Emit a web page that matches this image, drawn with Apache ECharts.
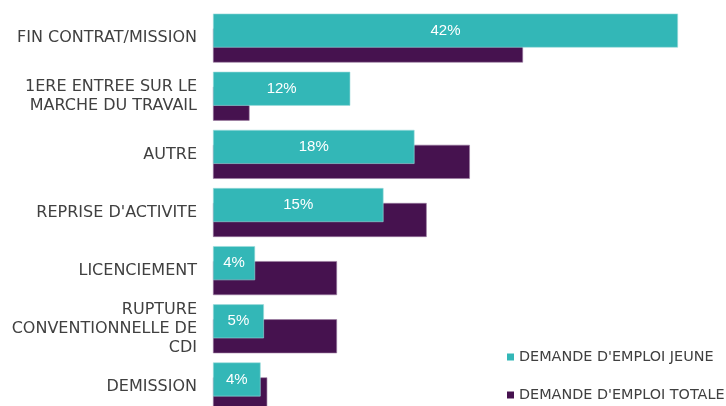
<!DOCTYPE html>
<html>
<head>
<meta charset="utf-8">
<script src="https://cdn.jsdelivr.net/npm/echarts@6/dist/echarts.min.js"></script>
<style>
  html, body { margin: 0; padding: 0; background: #fff; }
  #chart { width: 726px; height: 406px; }
</style>
</head>
<body>
<div id="chart"></div>
<script>
// data
var categories = [
  'FIN CONTRAT/MISSION',
  '1ERE ENTREE SUR LE\nMARCHE DU TRAVAIL',
  'AUTRE',
  "REPRISE D'ACTIVITE",
  'LICENCIEMENT',
  'RUPTURE\nCONVENTIONNELLE DE\nCDI',
  'DEMISSION'
];
var jeune = [42, 12.4, 18.2, 15.4, 3.8, 4.6, 4.3];
var totale = [28, 3.3, 23.2, 19.3, 11.2, 11.2, 4.9];
var seriesNames = ["DEMANDE D'EMPLOI JEUNE", "DEMANDE D'EMPLOI TOTALE"];

var chartDom = document.getElementById('chart');
var myChart = echarts.init(chartDom);
var option;

option = {
  animation: false,
  grid: {
    left: 213,
    top: 9,
    width: 465,
    height: 407,
    outerBoundsMode: 'none'
  },
  legend: {
    orient: 'vertical',
    left: 507,
    top: 349,
    padding: 0,
    itemWidth: 7,
    itemHeight: 7,
    itemGap: 22,
    icon: 'rect',
    itemStyle: { borderWidth: 0 },
    textStyle: {
      fontFamily: 'DejaVu Sans',
      fontSize: 14.4,
      lineHeight: 16,
      color: '#404040'
    },
    data: seriesNames
  },
  xAxis: {
    type: 'value',
    min: 0,
    max: 42,
    show: false
  },
  yAxis: {
    type: 'category',
    inverse: true,
    data: categories,
    axisLine: { show: false },
    axisTick: { show: false },
    axisLabel: {
      margin: 16,
      fontFamily: 'DejaVu Sans',
      fontSize: 16,
      lineHeight: 19,
      color: '#404040',
      align: 'right'
    }
  },
  series: [
    {
      name: seriesNames[0],
      type: 'bar',
      z: 3,
      data: jeune,
      barWidth: 34,
      barGap: '-56%',
      itemStyle: {
        color: '#33B7B7',
        borderColor: '#9fdcdc',
        borderWidth: 0.6
      },
      label: {
        show: true,
        position: 'inside',
        color: '#ffffff',
        fontFamily: 'Liberation Sans',
        fontSize: 15,
        formatter: function (p) { return Math.round(p.value) + '%'; }
      }
    },
    {
      name: seriesNames[1],
      type: 'bar',
      z: 2,
      data: totale,
      barWidth: 34,
      itemStyle: {
        color: '#46124F',
        borderColor: '#9b7aa0',
        borderWidth: 0.6
      }
    }
  ]
};

if (option && typeof option === 'object') {
  myChart.setOption(option);
}
</script>
</body>
</html>
